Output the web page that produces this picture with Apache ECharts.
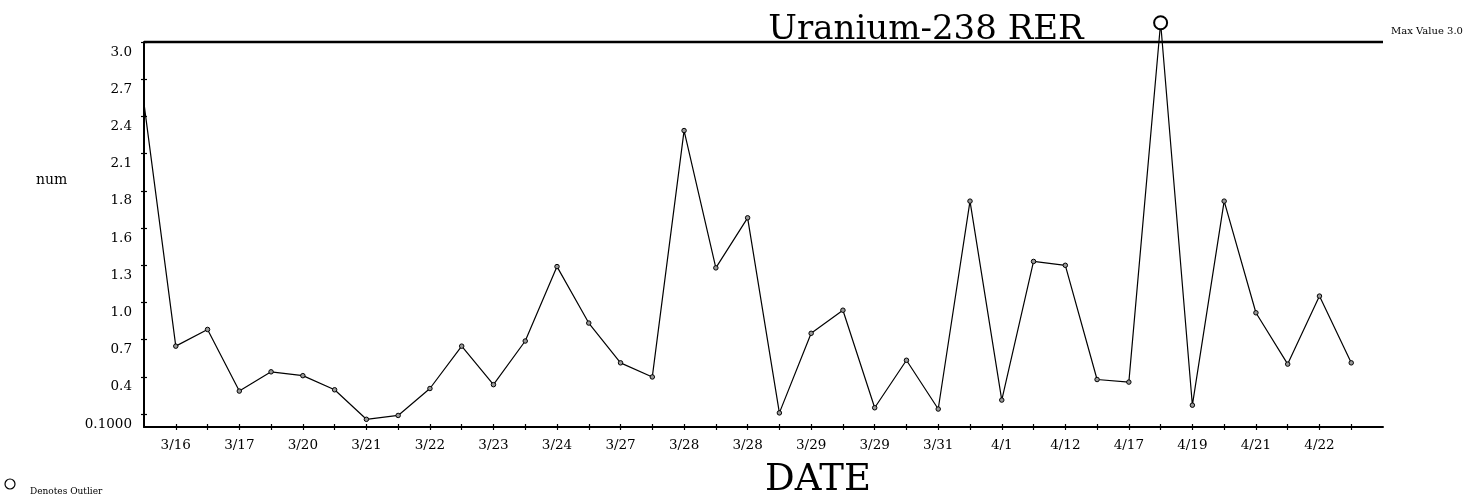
<!DOCTYPE html>
<html>
<head>
<meta charset="utf-8">
<script src="https://cdn.jsdelivr.net/npm/echarts@6/dist/echarts.min.js"></script>
<style>
  html, body { margin: 0; padding: 0; background: #fff; }
  #chart { width: 1484px; height: 495px; }
</style>
</head>
<body>
<div id="chart"></div>
<script>
// Sample dates (every other one is labelled on the axis)
const dates = ['3/15','3/16','3/16','3/17','3/17','3/20','3/20','3/21','3/21','3/22',
               '3/22','3/23','3/23','3/24','3/24','3/27','3/27','3/28','3/28','3/28',
               '3/28','3/29','3/29','3/29','3/30','3/31','3/31','4/1','4/11','4/12',
               '4/13','4/17','4/18','4/19','4/20','4/21','4/21','4/22','4/22',''];

// Uranium-238 RER readings
const rerValues = [2.52,0.63,0.76,0.28,0.43,0.40,0.29,0.06,0.09,0.30,
                   0.63,0.33,0.67,1.25,0.81,0.50,0.39,2.31,1.24,1.63,
                   0.11,0.73,0.91,0.15,0.52,0.14,1.76,0.21,1.29,1.26,
                   0.37,0.35,3.15,0.17,1.76,0.89,0.49,1.02,0.50];

// Indices of readings flagged as outliers
const outlierIndices = [32];

// Limit line
const maxValue = 3.0;

// Y axis ticks and their printed labels
const yTickValues = [0.1, 0.39, 0.68, 0.97, 1.26, 1.55, 1.84, 2.13, 2.42, 2.71, 3.0];
const yTickLabels = ['0.1000','0.4','0.7','1.0','1.3','1.6','1.8','2.1','2.4','2.7','3.0'];

const FONT = 'DejaVu Serif';

// First reading sits on the axis without a marker; outliers get a larger open ring
const seriesData = rerValues.map((v, i) => {
  if (i === 0) return { value: v, symbol: 'none' };
  if (outlierIndices.includes(i)) {
    return {
      value: v,
      symbol: 'emptyCircle',
      symbolSize: 13,
      itemStyle: { color: '#000', borderColor: '#000', borderWidth: 1.1 }
    };
  }
  return v;
});

function yLabel(v) {
  let best = 0, bestD = Infinity;
  yTickValues.forEach((t, i) => {
    const d = Math.abs(t - v);
    if (d < bestD) { bestD = d; best = i; }
  });
  return yTickLabels[best];
}

const chart = echarts.init(document.getElementById('chart'), null, { renderer: 'canvas' });

const xCommon = {
  type: 'category',
  data: dates,
  boundaryGap: false,
  position: 'bottom'
};
const yCommon = {
  type: 'value',
  min: 0,
  max: maxValue,
  position: 'left',
  splitLine: { show: false }
};

chart.setOption({
  animation: false,
  backgroundColor: '#fff',
  title: {
    text: 'Uranium-238 RER',
    left: 921,
    textAlign: 'center',
    top: 8,
    textStyle: { fontFamily: FONT, fontSize: 34, fontWeight: 'normal', color: '#000' }
  },
  grid: { left: 144, right: 101, top: 42, bottom: 68, containLabel: false },
  xAxis: [
    Object.assign({}, xCommon, {
      axisLine: { lineStyle: { color: '#000', width: 2 } },
      axisTick: {
        length: 3,
        lineStyle: { color: '#000', width: 1.2 },
        interval: (i) => i > 0 && i < dates.length - 1
      },
      axisLabel: {
        interval: (i) => i % 2 === 1,
        fontFamily: FONT, fontSize: 13.5, color: '#000', margin: 11
      }
    }),
    Object.assign({}, xCommon, {
      axisLine: { show: false },
      axisTick: {
        inside: true, length: 3,
        lineStyle: { color: '#000', width: 1.2 },
        interval: (i) => i > 0 && i < dates.length - 1
      },
      axisLabel: { show: false }
    })
  ],
  yAxis: [
    Object.assign({}, yCommon, {
      axisLine: { show: true, lineStyle: { color: '#000', width: 2 } },
      axisTick: { show: true, length: 3, customValues: yTickValues, lineStyle: { color: '#000', width: 1.2 } },
      axisLabel: {
        customValues: yTickValues,
        formatter: (v) => yLabel(v),
        fontFamily: FONT, fontSize: 13.5, color: '#000', margin: 12,
        verticalAlign: 'top',
        lineHeight: 20
      }
    }),
    Object.assign({}, yCommon, {
      axisLine: { show: false },
      axisTick: { show: true, inside: true, length: 3, customValues: yTickValues, lineStyle: { color: '#000', width: 1.2 } },
      axisLabel: { show: false }
    })
  ],
  series: [{
    name: 'num',
    type: 'line',
    xAxisIndex: 0,
    yAxisIndex: 0,
    data: seriesData,
    clip: false,
    symbol: 'circle',
    symbolSize: 4.5,
    showAllSymbol: true,
    lineStyle: { color: '#000', width: 1.2 },
    itemStyle: { color: '#999', borderColor: '#000', borderWidth: 1 },
    z: 3,
    markLine: {
      silent: true,
      symbol: 'none',
      lineStyle: { color: '#000', width: 2.4, type: 'solid' },
      label: {
        position: 'end',
        formatter: 'Max Value ' + maxValue.toFixed(1),
        fontFamily: FONT, fontSize: 10, color: '#000',
        distance: 8,
        verticalAlign: 'bottom',
        lineHeight: 22
      },
      data: [{ yAxis: maxValue }]
    }
  }],
  graphic: [
    {
      type: 'text', left: 36, top: 173,
      style: { text: 'num', font: '14px "DejaVu Serif"', fill: '#000' }
    },
    {
      type: 'text', left: 765, top: 462,
      style: { text: 'DATE', font: '37px "DejaVu Serif"', fill: '#000' }
    },
    {
      type: 'circle', shape: { cx: 10, cy: 484, r: 5 },
      style: { fill: '#fff', stroke: '#000', lineWidth: 1.2 }
    },
    {
      type: 'text', left: 30, top: 487,
      style: { text: 'Denotes Outlier', font: '9px "DejaVu Serif"', fill: '#000' }
    }
  ]
});
</script>
</body>
</html>
